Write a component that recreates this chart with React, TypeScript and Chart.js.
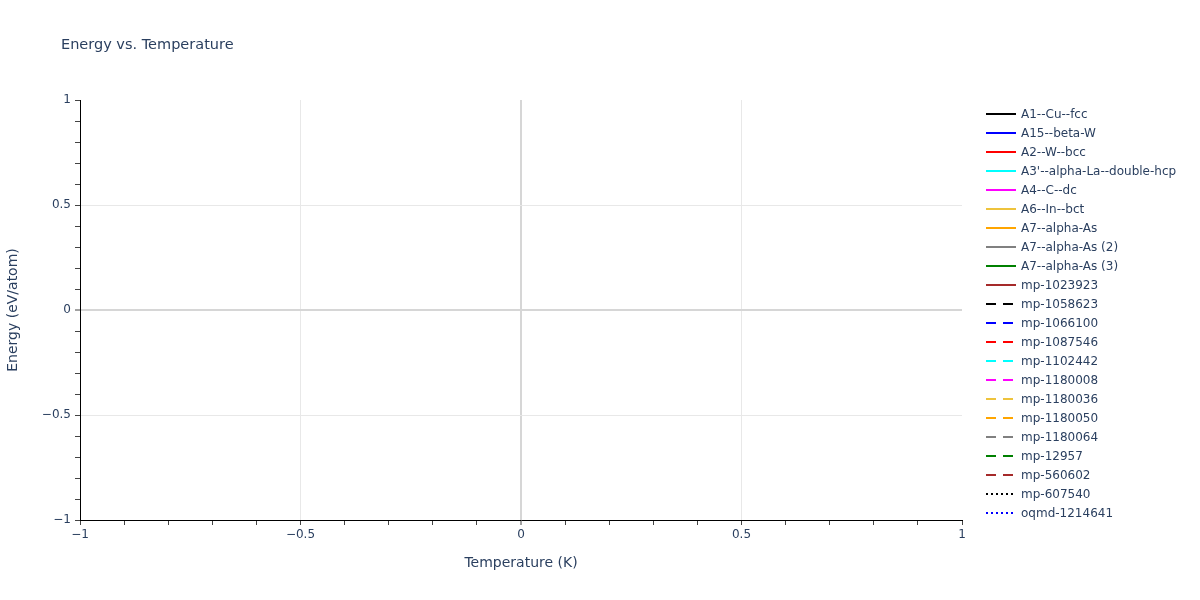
import React, { useEffect, useRef } from 'react';
import { Chart, registerables } from 'chart.js';

Chart.register(...registerables);

const FONT = '"DejaVu Sans", Verdana, sans-serif';
const TEXT = '#2a3f5f';

const chartTitle = 'Energy vs. Temperature';
const xTitle = 'Temperature (K)';
const yTitle = 'Energy (eV/atom)';

// axis ranges (no data points, plotly default -1..1)
const xRange = [-1, 1];
const yRange = [-1, 1];
const majorStep = 0.5;
const minorStep = 0.1;

const seriesNames = [
  'A1--Cu--fcc',
  'A15--beta-W',
  'A2--W--bcc',
  "A3'--alpha-La--double-hcp",
  'A4--C--dc',
  'A6--In--bct',
  'A7--alpha-As',
  'A7--alpha-As (2)',
  'A7--alpha-As (3)',
  'mp-1023923',
  'mp-1058623',
  'mp-1066100',
  'mp-1087546',
  'mp-1102442',
  'mp-1180008',
  'mp-1180036',
  'mp-1180050',
  'mp-1180064',
  'mp-12957',
  'mp-560602',
  'mp-607540',
  'oqmd-1214641',
];

const palette = ['#000000', '#0000ff', '#ff0000', '#00ffff', '#ff00ff', '#eec33c', '#ffa500', '#808080', '#008000', '#a52a2a'];
const seriesColors = [...palette, ...palette, '#000000', '#0000ff'];

const seriesStyles = [
  ...Array(10).fill('solid'),
  ...Array(10).fill('dash'),
  'dot',
  'dot',
];

// each series is empty in the source figure
const seriesValues: { x: number; y: number }[][] = seriesNames.map(() => []);

const dashFor: Record<string, number[]> = {
  solid: [],
  dash: [10, 7],
  dot: [2, 3],
};

const isMajor = (v: number) => Math.abs(v / majorStep - Math.round(v / majorStep)) < 1e-6;
const fmt = (v: number) => {
  const r = Math.round(v * 10) / 10;
  return r < 0 ? '\u2212' + String(-r) : String(r);
};

const sideLegend = {
  id: 'sideLegend',
  afterDraw(chart: any) {
    const { ctx, chartArea } = chart;
    ctx.save();
    // title
    ctx.font = `14.5px ${FONT}`;
    ctx.fillStyle = TEXT;
    ctx.textBaseline = 'middle';
    ctx.textAlign = 'left';
    ctx.fillText(chartTitle, 61, 45);

    // legend
    const x0 = chartArea.right + 24;
    const top = chartArea.top + 14;
    ctx.font = `12px ${FONT}`;
    chart.data.datasets.forEach((ds: any, i: number) => {
      const y = top + i * 19;
      ctx.strokeStyle = ds.borderColor;
      ctx.lineWidth = 2;
      ctx.setLineDash(ds.borderDash || []);
      ctx.beginPath();
      ctx.moveTo(x0, y);
      ctx.lineTo(x0 + 30, y);
      ctx.stroke();
      ctx.setLineDash([]);
      ctx.fillStyle = TEXT;
      ctx.fillText(ds.label, x0 + 35, y + 1);
    });
    ctx.restore();
  },
};

const axisGrid = {
  color: (c: any) => {
    const v = c.tick?.value;
    if (v === undefined || Math.abs(v) > 0.99 || !isMajor(v)) return 'rgba(0,0,0,0)';
    return Math.abs(v) < 1e-9 ? '#d6d6d6' : '#e8e8e8';
  },
  lineWidth: (c: any) => (c.tick && Math.abs(c.tick.value) < 1e-9 ? 2 : 1),
  tickColor: '#444',
  tickWidth: 1,
  tickLength: 5,
  drawTicks: true,
};

export default function App() {
  const canvasRef = useRef<HTMLCanvasElement>(null);
  const chartRef = useRef<Chart | null>(null);

  useEffect(() => {
    if (!canvasRef.current) return;
    if (chartRef.current) chartRef.current.destroy();

    const datasets = seriesNames.map((name, i) => ({
      label: name,
      data: seriesValues[i],
      borderColor: seriesColors[i],
      backgroundColor: seriesColors[i],
      borderWidth: 2,
      borderDash: dashFor[seriesStyles[i]],
      pointRadius: 0,
      fill: false,
    }));

    chartRef.current = new Chart(canvasRef.current, {
      type: 'line',
      data: { datasets },
      plugins: [sideLegend],
      options: {
        responsive: true,
        maintainAspectRatio: false,
        animation: false,
        layout: { padding: { top: 100, right: 238, bottom: 0, left: 0 } },
        plugins: {
          legend: { display: false },
          title: { display: false },
          tooltip: { enabled: false },
        },
        scales: {
          x: {
            type: 'linear',
            min: xRange[0],
            max: xRange[1],
            grid: axisGrid,
            border: { display: true, color: '#000', width: 1 },
            ticks: {
              stepSize: minorStep,
              autoSkip: false,
              maxRotation: 0,
              padding: 3,
              color: TEXT,
              font: { family: FONT, size: 12 },
              callback: (v: any) => (isMajor(Number(v)) ? fmt(Number(v)) : ''),
            },
            title: {
              display: true,
              text: xTitle,
              color: TEXT,
              font: { family: FONT, size: 14 },
              padding: { top: 0, bottom: 28.6 },
            },
            afterFit: (scale: any) => {
              scale.height = 80;
            },
          },
          y: {
            type: 'linear',
            min: yRange[0],
            max: yRange[1],
            grid: axisGrid,
            border: { display: true, color: '#000', width: 1 },
            ticks: {
              stepSize: minorStep,
              autoSkip: false,
              padding: 4,
              color: TEXT,
              font: { family: FONT, size: 12 },
              callback: (v: any) => (isMajor(Number(v)) ? fmt(Number(v)) : ''),
            },
            title: {
              display: true,
              text: yTitle,
              color: TEXT,
              font: { family: FONT, size: 14 },
              padding: { top: 5, bottom: 0 },
            },
            afterFit: (scale: any) => {
              scale.width = 80;
            },
          },
        },
      },
    });

    return () => {
      if (chartRef.current) {
        chartRef.current.destroy();
        chartRef.current = null;
      }
    };
  }, []);

  return (
    <div style={{ position: 'fixed', left: 0, top: 0, width: 1200, height: 600, background: '#fff' }}>
      <canvas ref={canvasRef}></canvas>
    </div>
  );
}
